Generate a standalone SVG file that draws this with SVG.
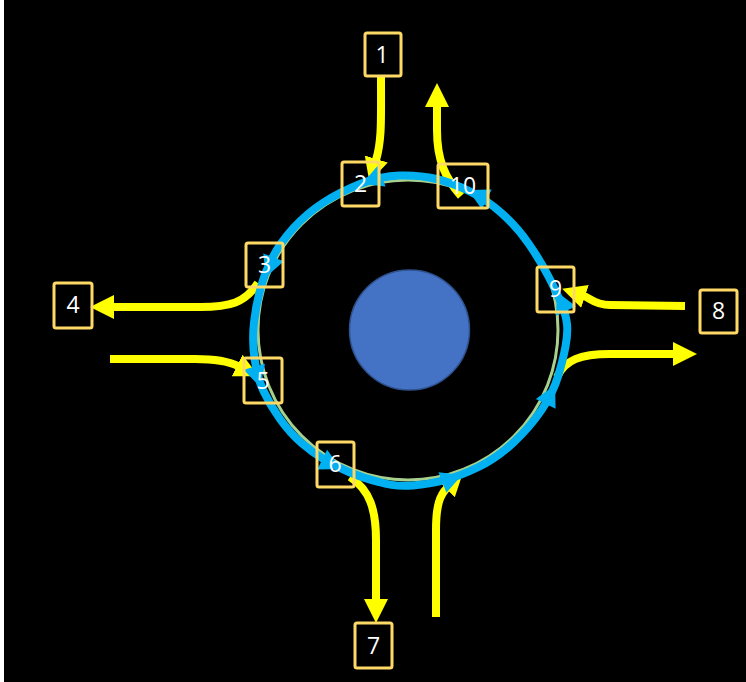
<svg xmlns="http://www.w3.org/2000/svg" xmlns:xlink="http://www.w3.org/1999/xlink" width="746" height="682" viewBox="0 0 746 682">
  <defs>
    <style>
      .ring { fill: none; stroke: #00B0F0; stroke-width: 8; stroke-linejoin: round; }
      .guide { fill: none; stroke: #A9D18E; stroke-width: 3; }
      .ya { fill: none; stroke: #FFFF00; stroke-width: 8; marker-end: url(#yhead); }
      .box { fill: none; stroke: #FFD966; stroke-width: 3; }
      .lbl { font-family: "Open Sans", "Noto Sans", "Liberation Sans", sans-serif; font-size: 23px; fill: #FFFFFF; text-anchor: middle; }
    </style>
    <marker id="yhead" viewBox="0 -13 26 26" markerWidth="26" markerHeight="26" refX="1" refY="0" orient="auto" markerUnits="userSpaceOnUse">
      <path d="M0,-12 L24,0 L0,12 Z" fill="#FFFF00"/>
    </marker>
    <path id="bhead" d="M0,0 L-21,-11 L-21,11 Z" fill="#00B0F0"/>
  </defs>

  <rect x="0" y="0" width="746" height="682" fill="#FFFFFF"/>
  <rect x="4" y="0" width="742" height="682" fill="#000000"/>

  <g id="island">
    <circle cx="409.5" cy="330" r="60" fill="#4472C4" stroke="#2F528F" stroke-width="1.5"/>
  </g>

  <g id="connectors">
    <circle class="guide" cx="408" cy="330" r="150"/>
    <!-- yellow approach / exit arrows -->
    <path class="ya" d="M381,77 C381,120 382,140 376,160"/>
    <path class="ya" d="M461,196 C445,178 437,160 437,130 L437,106"/>
    <path class="ya" d="M258,283 C245,303 230,307 200,307 L113,307"/>
    <path class="ya" d="M110,359 L195,359 C215,359 228,361 238,366"/>
    <path class="ya" d="M685,306 L610,305 C595,305 590,298 584,296"/>
    <path class="ya" d="M557,377 C565,360 580,354 610,354 L674,354"/>
    <path class="ya" d="M350,477 C370,490 376,510 376,540 L376,600"/>
    <path class="ya" d="M436,617 L436,530 C436,505 440,495 447,488"/>
    <!-- blue circulating ring -->
    <path class="ring" d="M436.5,179 Q420,175 400,175.5 Q380,176 360,184 Q340,192 323.5,202.5 Q307,213 293.5,228 Q280,243 272.5,257.5 Q265,272 260.5,288.5 Q256,305 254,322.5 Q252,340 254.5,358.5 Q257,377 263.5,391 Q270,405 280,419 Q290,433 301.5,443 Q313,453 325,460 Q337,467 350,472.5 Q363,478 379,482 Q395,487 412.5,485.5 Q430,484 445,480 Q460,476 478.5,467 Q497,458 513.5,442.5 Q530,427 541.5,410 Q553,393 558,376.5 Q563,360 565.5,346.5 Q568,333 567,324 Q566,315 561.5,304 Q557,293 548.5,276.5 Q540,260 528.5,243.5 Q517,227 502,213.5 Q487,200 470,191.5 Q453,183 436.5,179 Z"/>
    <use xlink:href="#bhead" href="#bhead" transform="translate(468,190) rotate(206.6)"/>
    <use xlink:href="#bhead" href="#bhead" transform="translate(362,184) rotate(158.2)"/>
    <use xlink:href="#bhead" href="#bhead" transform="translate(266,277) rotate(111)"/>
    <use xlink:href="#bhead" href="#bhead" transform="translate(260,387) rotate(74.5)"/>
    <use xlink:href="#bhead" href="#bhead" transform="translate(341,469) rotate(26.6)"/>
    <use xlink:href="#bhead" href="#bhead" transform="translate(462,475) rotate(-21.2)"/>
    <use xlink:href="#bhead" href="#bhead" transform="translate(555,385) rotate(-63.8)"/>
    <use xlink:href="#bhead" href="#bhead" transform="translate(557,292) rotate(-115.3)"/>
  </g>

  <g id="n1"><rect class="box" x="365" y="33" width="36" height="43" rx="2"/><text class="lbl" x="382" y="63">1</text></g>
  <g id="n2"><rect class="box" x="342" y="162" width="37" height="44" rx="2"/><text class="lbl" x="360.5" y="192">2</text></g>
  <g id="n3"><rect class="box" x="246" y="243" width="37" height="44" rx="2"/><text class="lbl" x="264.5" y="273">3</text></g>
  <g id="n4"><rect class="box" x="54" y="283" width="38" height="45" rx="2"/><text class="lbl" x="73" y="313">4</text></g>
  <g id="n5"><rect class="box" x="244" y="358" width="38" height="45" rx="2"/><text class="lbl" x="263" y="389">5</text></g>
  <g id="n6"><rect class="box" x="317" y="442" width="37" height="45" rx="2"/><text class="lbl" x="335" y="472">6</text></g>
  <g id="n7"><rect class="box" x="355" y="623" width="37" height="45" rx="2"/><text class="lbl" x="373.5" y="654">7</text></g>
  <g id="n8"><rect class="box" x="700" y="290" width="37" height="43" rx="2"/><text class="lbl" x="718.5" y="319">8</text></g>
  <g id="n9"><rect class="box" x="537" y="267" width="37" height="45" rx="2"/><text class="lbl" x="555.5" y="297">9</text></g>
  <g id="n10"><rect class="box" x="438" y="164" width="50" height="44" rx="2"/><text class="lbl" x="463" y="194">10</text></g>
</svg>
